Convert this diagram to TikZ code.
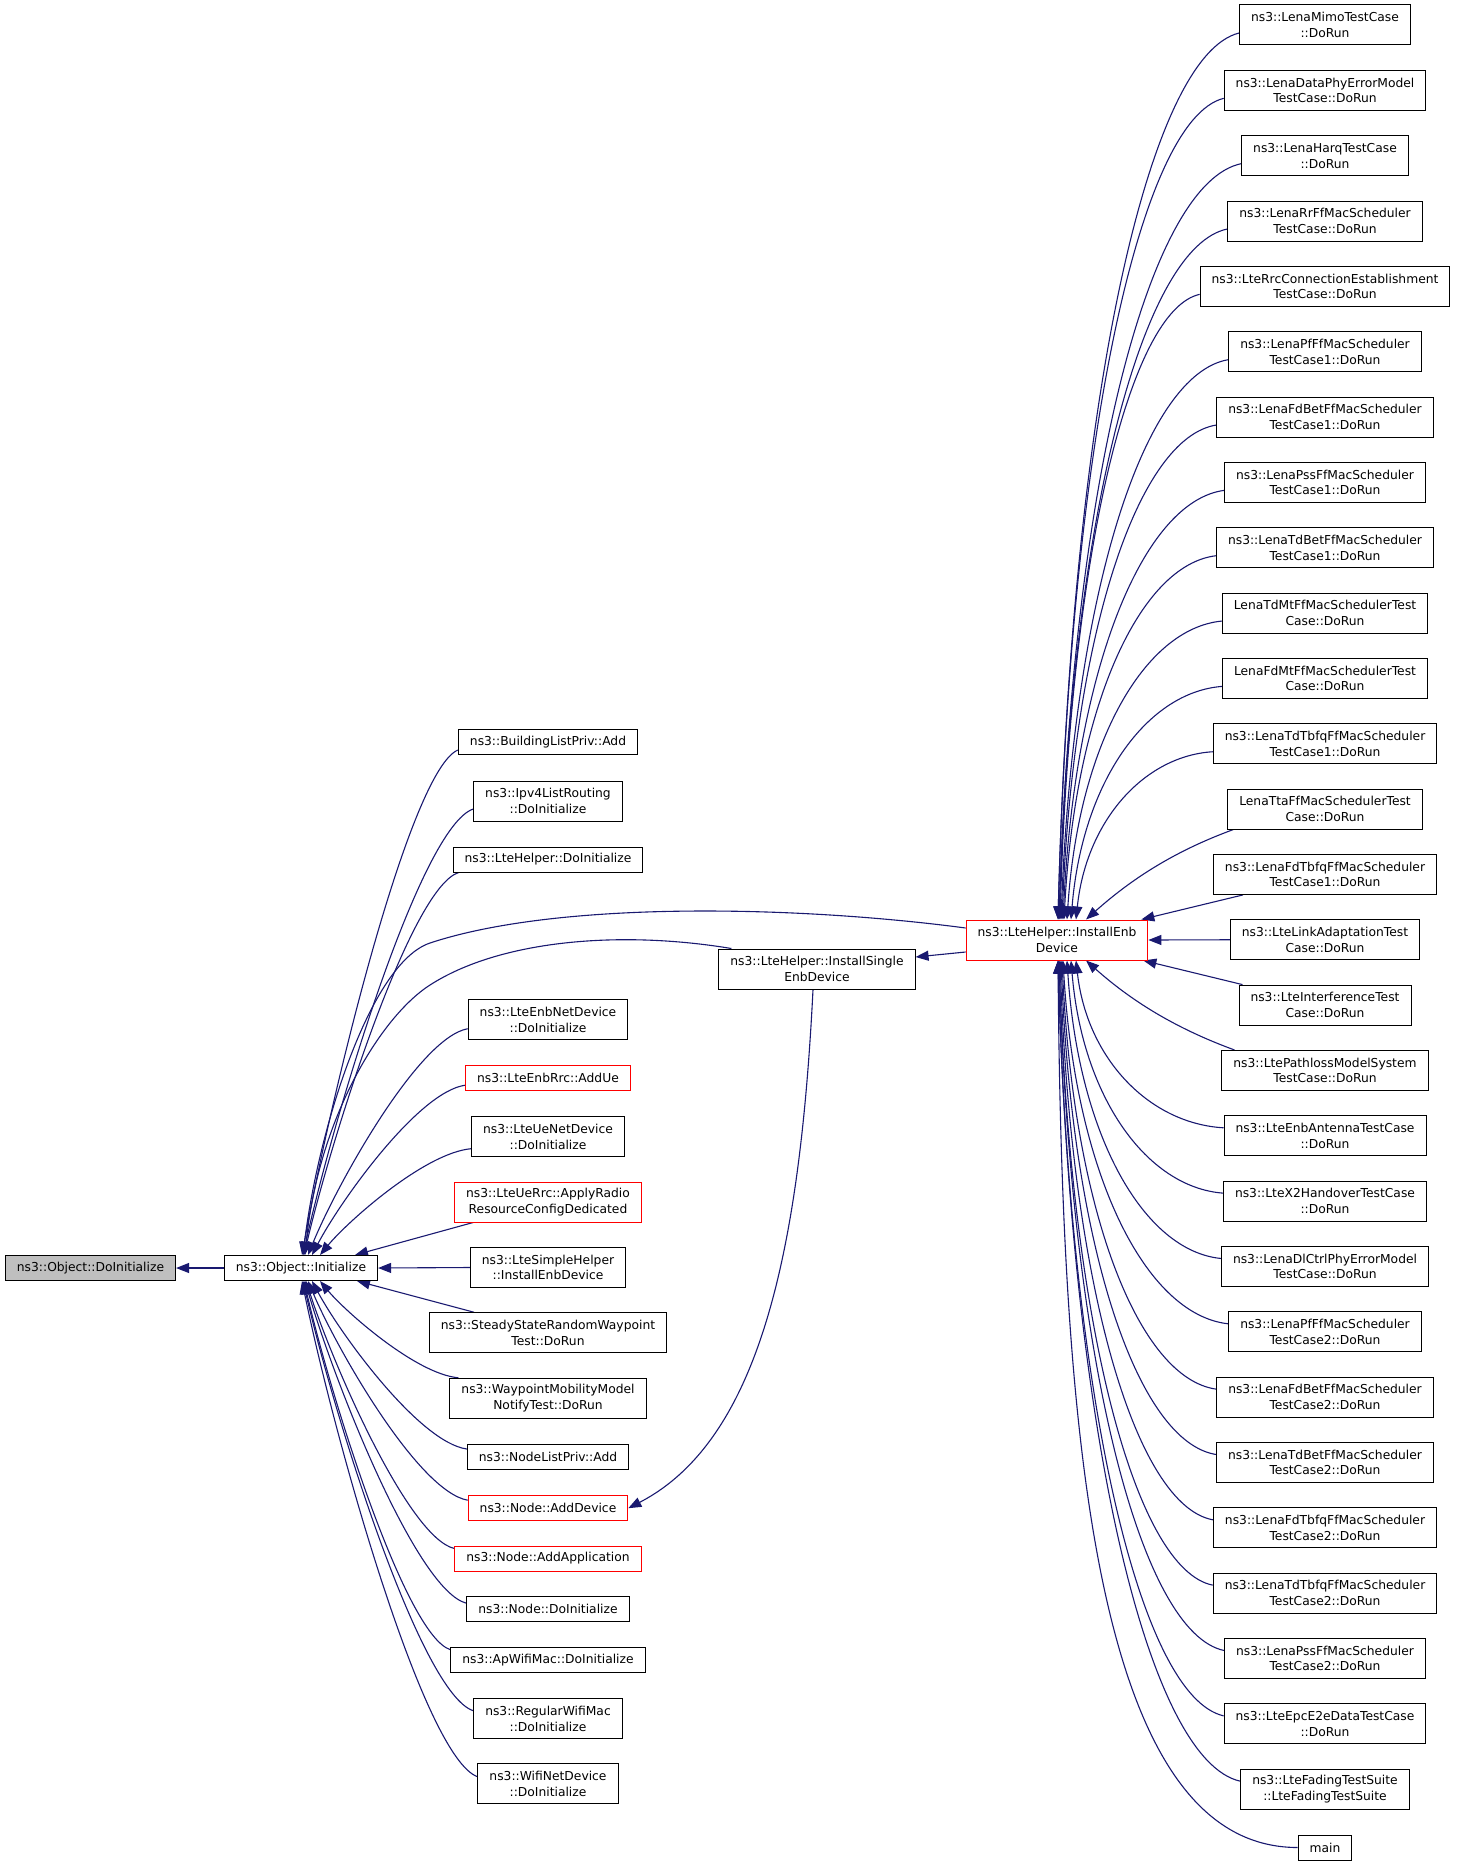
\documentclass[tikz,border=0pt]{standalone}
\usepackage{fontspec}
\setmainfont{DejaVu Sans}
\usetikzlibrary{arrows.meta,calc}
\definecolor{navy}{HTML}{191970}
\definecolor{grayfill}{HTML}{BFBFBF}
\pgfdeclarelayer{bg}
\pgfsetlayers{bg,main}
\tikzset{
  box/.style={draw=black, fill=white, line width=1pt, inner xsep=11.5pt, inner ysep=2pt,
    minimum height=25pt, align=center, font=\fontsize{12.3}{15.7}\selectfont},
  box2/.style={box, minimum height=40pt},
  redb/.style={draw=red},
  conn/.style={draw=navy, line width=1.1pt, -{Triangle[length=13pt,width=10pt]}},
}
\newcommand\curveR[2]{\draw[conn] let \p1=(#1), \p2=(#2) in (\p1) .. controls ({\x1+0.5*(\x2-\x1)},{\y1+0.025*(\y2-\y1)}) and ({\x2+0.075*(\x1-\x2)},{\y2+0.59*(\y1-\y2)}) .. (\p2);}
\newcommand\curveL[2]{\draw[conn] let \p1=(#1), \p2=(#2) in (\p1) .. controls ({\x1+0.31*(\x2-\x1)},{\y1+0.04*(\y2-\y1)}) and ({\x2+0.18*(\x1-\x2)},{\y2+0.31*(\y1-\y2)}) .. (\p2);}
\begin{document}
\begin{tikzpicture}[x=1pt,y=-1pt]
\useasboundingbox (0,0) rectangle (1459,1867);
% left
\node[box, fill=grayfill] (odi) at (90.5,1268) {ns3::Object::DoInitialize};
\node[box] (oi) at (301,1268) {ns3::Object::Initialize};
% middle column
\node[box] (bl) at (548,742) {ns3::BuildingListPriv::Add};
\node[box2] (ipv4) at (548,801) {ns3::Ipv4ListRouting\\::DoInitialize};
\node[box] (lhdi) at (548,859.5) {ns3::LteHelper::DoInitialize};
\node[box2] (enbnd) at (548,1019.7) {ns3::LteEnbNetDevice\\::DoInitialize};
\node[box, redb] (addue) at (548,1078.2) {ns3::LteEnbRrc::AddUe};
\node[box2] (uend) at (548,1136.7) {ns3::LteUeNetDevice\\::DoInitialize};
\node[box2, redb] (apply) at (548,1202) {ns3::LteUeRrc::ApplyRadio\\ResourceConfigDedicated};
\node[box2] (lsh) at (548,1267.5) {ns3::LteSimpleHelper\\::InstallEnbDevice};
\node[box2] (steady) at (548,1332.7) {ns3::SteadyStateRandomWaypoint\\Test::DoRun};
\node[box2] (wp) at (548,1398.3) {ns3::WaypointMobilityModel\\NotifyTest::DoRun};
\node[box] (nlp) at (548,1457) {ns3::NodeListPriv::Add};
\node[box, redb] (adddev) at (548,1508.2) {ns3::Node::AddDevice};
\node[box, redb] (addapp) at (548,1558.5) {ns3::Node::AddApplication};
\node[box] (ndi) at (548,1609.2) {ns3::Node::DoInitialize};
\node[box] (apw) at (548,1659.7) {ns3::ApWifiMac::DoInitialize};
\node[box2] (rwm) at (548,1718.7) {ns3::RegularWifiMac\\::DoInitialize};
\node[box2] (wnd) at (548,1783.7) {ns3::WifiNetDevice\\::DoInitialize};
% helpers
\node[box2] (is) at (817,969) {ns3::LteHelper::InstallSingle\\EnbDevice};
\node[box2, redb] (ie) at (1057,940) {ns3::LteHelper::InstallEnb\\Device};
% right column
\foreach \k/\t in {
 0/{ns3::LenaMimoTestCase\\::DoRun},
 1/{ns3::LenaDataPhyErrorModel\\TestCase::DoRun},
 2/{ns3::LenaHarqTestCase\\::DoRun},
 3/{ns3::LenaRrFfMacScheduler\\TestCase::DoRun},
 4/{ns3::LteRrcConnectionEstablishment\\TestCase::DoRun},
 5/{ns3::LenaPfFfMacScheduler\\TestCase1::DoRun},
 6/{ns3::LenaFdBetFfMacScheduler\\TestCase1::DoRun},
 7/{ns3::LenaPssFfMacScheduler\\TestCase1::DoRun},
 8/{ns3::LenaTdBetFfMacScheduler\\TestCase1::DoRun},
 9/{LenaTdMtFfMacSchedulerTest\\Case::DoRun},
 10/{LenaFdMtFfMacSchedulerTest\\Case::DoRun},
 11/{ns3::LenaTdTbfqFfMacScheduler\\TestCase1::DoRun},
 12/{LenaTtaFfMacSchedulerTest\\Case::DoRun},
 13/{ns3::LenaFdTbfqFfMacScheduler\\TestCase1::DoRun},
 14/{ns3::LteLinkAdaptationTest\\Case::DoRun},
 15/{ns3::LteInterferenceTest\\Case::DoRun},
 16/{ns3::LtePathlossModelSystem\\TestCase::DoRun},
 17/{ns3::LteEnbAntennaTestCase\\::DoRun},
 18/{ns3::LteX2HandoverTestCase\\::DoRun},
 19/{ns3::LenaDlCtrlPhyErrorModel\\TestCase::DoRun},
 20/{ns3::LenaPfFfMacScheduler\\TestCase2::DoRun},
 21/{ns3::LenaFdBetFfMacScheduler\\TestCase2::DoRun},
 22/{ns3::LenaTdBetFfMacScheduler\\TestCase2::DoRun},
 23/{ns3::LenaFdTbfqFfMacScheduler\\TestCase2::DoRun},
 24/{ns3::LenaTdTbfqFfMacScheduler\\TestCase2::DoRun},
 25/{ns3::LenaPssFfMacScheduler\\TestCase2::DoRun},
 26/{ns3::LteEpcE2eDataTestCase\\::DoRun},
 27/{ns3::LteFadingTestSuite\\::LteFadingTestSuite}}
 {\node[box2] (r\k) at (1325,{25+65.34*\k}) {\t};}
\node[box] (mn) at (1325,1847.5) {main};
% connectors
\begin{pgfonlayer}{bg}
\draw[conn] (oi.west) -- (odi.east);
\curveL{[yshift=-8pt]bl.west}{[xshift=1pt]oi.north}
\curveL{[yshift=-8pt]ipv4.west}{[xshift=2pt]oi.north}
\curveL{[xshift=6pt]lhdi.south west}{[xshift=3pt]oi.north}
\curveL{[yshift=-9pt]enbnd.west}{[xshift=7pt]oi.north}
\curveL{[yshift=-7pt]addue.west}{[xshift=11pt]oi.north}
\curveL{[yshift=-12pt]uend.west}{[xshift=19pt]oi.north}
\draw[conn] ([xshift=19pt]apply.south west) -- ([xshift=54pt]oi.north);
\draw[conn] (lsh.west) -- (oi.east);
\draw[conn] ([xshift=45pt]steady.north west) -- ([xshift=56pt]oi.south);
\curveL{[xshift=9pt]wp.north west}{[xshift=19pt]oi.south}
\curveL{[yshift=8pt]nlp.west}{[xshift=11pt]oi.south}
\curveL{[yshift=8pt]adddev.west}{[xshift=7pt]oi.south}
\curveL{[yshift=10pt]addapp.west}{[xshift=5pt]oi.south}
\curveL{[yshift=6pt]ndi.west}{[xshift=4pt]oi.south}
\curveL{[yshift=10pt]apw.west}{[xshift=3pt]oi.south}
\curveL{[yshift=8pt]rwm.west}{[xshift=2pt]oi.south}
\curveL{[yshift=7pt]wnd.west}{[xshift=1pt]oi.south}
\draw[conn] ([yshift=12pt]ie.west) .. controls (800,906) and (560,900) .. (430,943)
  .. controls (370,963) and (318,1130) .. ([xshift=2pt]oi.north);
\draw[conn] ([xshift=13pt]is.north west) .. controls (620,930) and (500,940) .. (430,985)
  .. controls (380,1017) and (318,1120) .. ([xshift=4pt]oi.north);
\draw[conn] ([yshift=-12pt]ie.west) -- ([yshift=12pt]is.east);
\draw[conn] ([xshift=-4pt]is.south) .. controls (800,1250) and (760,1440) .. (adddev.east);
% right fan
\foreach \k/\s in {0/1,1/1,2/2,3/2,4/3,5/4,6/5,7/6,8/7,9/10,10/14,11/19}
  {\curveR{[yshift=-8pt]r\k.west}{[xshift=\s pt]ie.north}}
\draw[conn] let \p1=([xshift=6pt]r12.south west), \p2=([xshift=29pt]ie.north) in
  (\p1) .. controls ({\x1-60pt},{\y1-22pt}) and ({\x2+45pt},{\y2+40pt}) .. (\p2);
\draw[conn] ([xshift=30pt]r13.south west) -- ([xshift=-7pt]ie.north east);
\draw[conn] (r14.west) -- (ie.east);
\draw[conn] ([xshift=4pt]r15.north west) -- ([xshift=-5pt]ie.south east);
\draw[conn] let \p1=([xshift=13pt]r16.north west), \p2=([xshift=29pt]ie.south) in
  (\p1) .. controls ({\x1-60pt},{\y1+22pt}) and ({\x2+45pt},{\y2-40pt}) .. (\p2);
\foreach \k/\s in {17/19,18/14,19/10,20/6,21/5,22/4,23/3,24/2,25/2,26/1,27/1}
  {\curveR{[yshift=8pt]r\k.west}{[xshift=\s pt]ie.south}}
\draw[conn] let \p1=(mn.west), \p2=([xshift=1pt]ie.south) in (\p1) .. controls ({\x1-200pt},\y1) and ({\x2+4pt},{\y2-490pt}) .. (\p2);
\end{pgfonlayer}
\end{tikzpicture}
\end{document}
